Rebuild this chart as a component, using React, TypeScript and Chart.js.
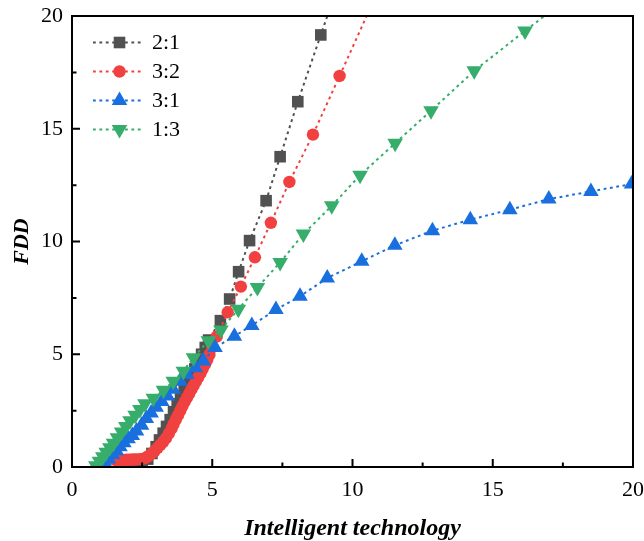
import React, { useEffect, useRef } from 'react';
import { Chart, registerables } from 'chart.js';
import { drawPoint } from 'chart.js/helpers';

Chart.register(...registerables);

// ---- data ----
const seriesNames = ['2:1', '3:2', '3:1', '1:3'];

const x21 = [1.7, 1.9, 2.1, 2.3, 2.5, 2.7, 2.85, 3.0, 3.12, 3.25, 3.37, 3.5, 3.62, 3.75, 3.87, 4.0, 4.12, 4.25, 4.38, 4.5, 4.62, 4.75,
  4.87, 5.29, 5.62, 5.94, 6.33, 6.92, 7.42, 8.05, 8.87, 9.85];
const y21 = [0.12, 0.14, 0.15, 0.16, 0.2, 0.35, 0.6, 0.9, 1.2, 1.5, 1.8, 2.1, 2.45, 2.8, 3.1, 3.4, 3.7, 4.0, 4.35, 4.7, 5.0, 5.3,
  5.63, 6.49, 7.45, 8.66, 10.04, 11.81, 13.76, 16.2, 19.16, 22.7];

const x32 = [1.55, 1.65, 1.75, 1.85, 1.95, 2.05, 2.15, 2.25, 2.35, 2.45, 2.55, 2.65, 2.75, 2.85, 2.95, 3.05, 3.15, 3.25, 3.35, 3.45,
  3.55, 3.62, 3.7, 3.78, 3.86, 3.94, 4.02, 4.1, 4.18, 4.26, 4.34, 4.42, 4.5, 4.58, 4.66, 4.74, 4.82, 4.9, 5.0,
  5.16, 5.55, 6.02, 6.52, 7.09, 7.75, 8.59, 9.54, 10.65];
const y32 = [0.3, 0.3, 0.31, 0.31, 0.32, 0.32, 0.33, 0.33, 0.34, 0.35, 0.37, 0.42, 0.5, 0.6, 0.72, 0.85, 0.98, 1.12, 1.28, 1.48,
  1.7, 1.9, 2.1, 2.3, 2.5, 2.7, 2.9, 3.08, 3.25, 3.45, 3.62, 3.8, 3.98, 4.15, 4.35, 4.55, 4.75, 4.98, 5.3,
  5.78, 6.86, 8.0, 9.3, 10.83, 12.64, 14.74, 17.34, 20.4];

const x31 = [1.05, 1.18, 1.3, 1.45, 1.58, 1.71, 1.85, 2.0, 2.15, 2.3, 2.48, 2.65, 2.82, 3.0, 3.2, 3.4, 3.6, 3.85, 4.1, 4.4, 4.68,
  5.1, 5.79, 6.41, 7.27, 8.13, 9.1, 10.33, 11.51, 12.85, 14.2, 15.61, 17.0, 18.5, 19.95];
const y31 = [0.02, 0.16, 0.35, 0.55, 0.72, 0.9, 1.08, 1.25, 1.4, 1.6, 1.85, 2.15, 2.4, 2.65, 2.9, 3.15, 3.45, 3.8, 4.1, 4.4, 4.7,
  5.3, 5.8, 6.28, 6.98, 7.57, 8.38, 9.12, 9.83, 10.48, 10.97, 11.41, 11.88, 12.22, 12.55];

const x13 = [0.85, 0.98, 1.1, 1.22, 1.35, 1.48, 1.62, 1.77, 1.92, 2.07, 2.25, 2.42, 2.6, 2.9, 3.26, 3.61, 3.97, 4.33,
  4.86, 5.31, 5.93, 6.61, 7.42, 8.25, 9.26, 10.27, 11.52, 12.8, 14.34, 16.15, 18.1];
const y13 = [0.05, 0.25, 0.45, 0.65, 0.85, 1.05, 1.3, 1.55, 1.8, 2.05, 2.3, 2.55, 2.8, 3.05, 3.4, 3.8, 4.25, 4.85,
  5.6, 6.08, 7.0, 7.96, 9.07, 10.33, 11.58, 12.94, 14.36, 15.8, 17.57, 19.34, 21.2];

const xTitle = 'Intelligent technology';
const yTitle = 'FDD';
const axisMin = 0;
const axisMax = 20;
const tickStep = 5;

// ---- styles ----
const colors = ['#515151', '#F14040', '#1A6FDF', '#37AD6B'];
const pointStyles = ['rect', 'circle', 'triangle', 'triangle'];
const rotations = [0, 0, 0, 180];
const radii = [8.2, 6.2, 9, 9];
const drawOrder = [3, 2, 1, 0];
const dash = [2.8, 3.6];

const xsAll = [x21, x32, x31, x13];
const ysAll = [y21, y32, y31, y13];

const FONT = '"Liberation Serif", "Times New Roman", serif';

const framePlugin = {
  id: 'frameTicksLegend',
  afterDraw(chart: any) {
    const { ctx, chartArea: a, scales } = chart;
    const xs = scales.x;
    const ys = scales.y;
    ctx.save();
    ctx.strokeStyle = '#000';
    ctx.lineWidth = 2;
    ctx.strokeRect(a.left, a.top, a.right - a.left, a.bottom - a.top);

    const xv = xs.ticks.map((t: any) => t.value);
    const yv = ys.ticks.map((t: any) => t.value);
    ctx.beginPath();
    xv.forEach((v: number, i: number) => {
      const p = xs.getPixelForValue(v);
      ctx.moveTo(p, a.bottom); ctx.lineTo(p, a.bottom - 8);
      if (i < xv.length - 1) {
        const m = xs.getPixelForValue((v + xv[i + 1]) / 2);
        ctx.moveTo(m, a.bottom); ctx.lineTo(m, a.bottom - 4.5);
      }
    });
    yv.forEach((v: number, i: number) => {
      const p = ys.getPixelForValue(v);
      ctx.moveTo(a.left, p); ctx.lineTo(a.left + 8, p);
      if (i < yv.length - 1) {
        const m = ys.getPixelForValue((v + yv[i + 1]) / 2);
        ctx.moveTo(a.left, m); ctx.lineTo(a.left + 4.5, m);
      }
    });
    ctx.stroke();

    // legend
    const rowH = 29;
    const y0 = a.top + 26.5;
    const lx0 = a.left + 21;
    const lx1 = a.left + 70;
    const mx = a.left + 47.5;
    const tx = a.left + 80;
    ctx.font = `22px ${FONT}`;
    ctx.textBaseline = 'middle';
    ctx.textAlign = 'left';
    seriesNames.forEach((name, i) => {
      const y = y0 + i * rowH;
      ctx.save();
      ctx.strokeStyle = colors[i];
      ctx.lineWidth = 2;
      ctx.setLineDash(dash);
      ctx.beginPath();
      ctx.moveTo(lx0, y); ctx.lineTo(lx1, y);
      ctx.stroke();
      ctx.setLineDash([]);
      ctx.fillStyle = colors[i];
      ctx.strokeStyle = colors[i];
      drawPoint(ctx, { pointStyle: pointStyles[i], rotation: rotations[i], radius: radii[i], borderWidth: 0 } as any, mx, y);
      ctx.restore();
      ctx.fillStyle = '#000';
      ctx.fillText(name, tx, y + 1);
    });
    ctx.restore();
  },
};

export default function App() {
  const ref = useRef<HTMLCanvasElement | null>(null);
  useEffect(() => {
    if (!ref.current) return;
    const datasets = seriesNames.map((name, i) => ({
      label: name,
      data: xsAll[i].map((x, j) => ({ x, y: ysAll[i][j] })),
      showLine: true,
      borderColor: colors[i],
      backgroundColor: colors[i],
      borderWidth: 2,
      borderDash: dash,
      pointStyle: pointStyles[i],
      rotation: rotations[i],
      pointRadius: radii[i],
      pointBorderWidth: 0,
      pointBackgroundColor: colors[i],
      pointBorderColor: colors[i],
      clip: 0,
      order: drawOrder[i],
    }));
    const chart = new Chart(ref.current, {
      type: 'scatter',
      data: { datasets },
      options: {
        responsive: false,
        animation: false,
        devicePixelRatio: 1,
        layout: { padding: { left: 0, top: 16, right: 11, bottom: 0 } },
        plugins: { legend: { display: false }, tooltip: { enabled: false } },
        scales: {
          x: {
            type: 'linear',
            min: axisMin,
            max: axisMax,
            grid: { display: false, drawTicks: false },
            border: { display: false },
            ticks: { stepSize: tickStep, color: '#000', font: { family: FONT, size: 22 }, padding: 10 },
            title: { display: true, text: xTitle, color: '#000', font: { family: FONT, size: 24, weight: 'bold', style: 'italic' }, padding: { top: 0, bottom: -2 } },
            afterFit: (s: any) => { s.height = 74; s.paddingLeft = 0; s.paddingRight = 0; },
          },
          y: {
            type: 'linear',
            min: axisMin,
            max: axisMax,
            grid: { display: false, drawTicks: false },
            border: { display: false },
            ticks: { stepSize: tickStep, color: '#000', font: { family: FONT, size: 22 }, padding: 9 },
            title: { display: true, text: yTitle, color: '#000', font: { family: FONT, size: 22, weight: 'bold', style: 'italic' }, padding: { top: 9, bottom: 0 } },
            afterFit: (s: any) => { s.width = 72; s.paddingTop = 0; s.paddingBottom = 0; },
          },
        },
      } as any,
      plugins: [framePlugin],
    });
    return () => chart.destroy();
  }, []);
  return (
    <canvas
      ref={ref}
      width={644}
      height={541}
      style={{ position: 'absolute', left: 0, top: 0, width: 644, height: 541, display: 'block' }}
    />
  );
}
